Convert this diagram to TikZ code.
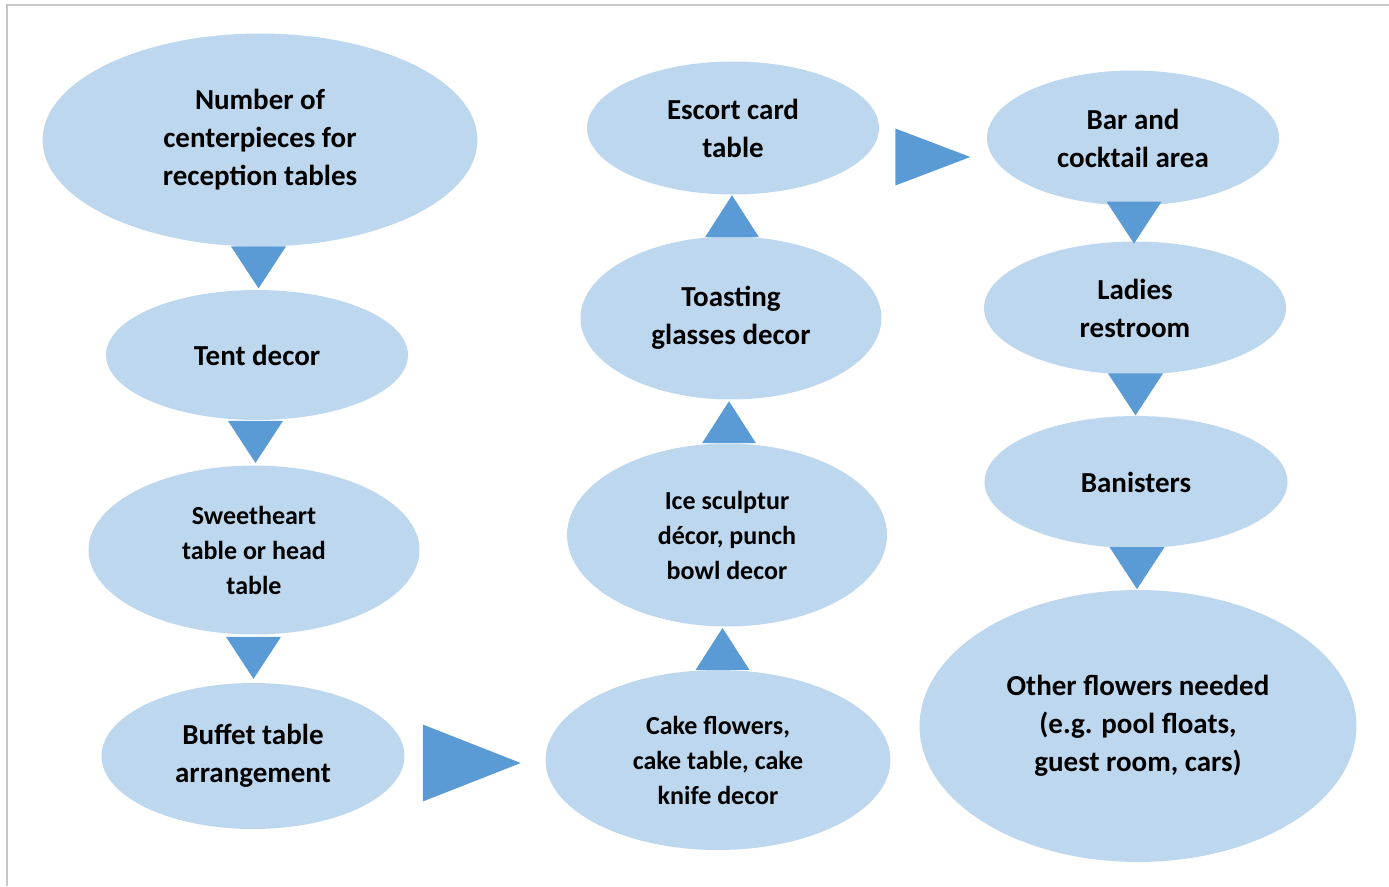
\documentclass[tikz,border=0pt]{standalone}
\usepackage{fontspec}
\setmainfont{Carlito}
\usetikzlibrary{shapes.geometric,calc}
\definecolor{bubblefill}{HTML}{BDD7EE}
\definecolor{pointer}{HTML}{5B9BD5}

\begin{document}
\begin{tikzpicture}[
x=0.02cm, y=-0.02cm,
bubble/.style={
	ellipse, inner sep=0pt,
	fill=bubblefill,
	align=center,
	font=\fontsize{16.5}{21.6}\selectfont\bfseries,
},
small/.style={font=\fontsize{14.8}{19.9}\selectfont\bfseries},
tri/.style={
	isosceles triangle, isosceles triangle stretches,
	inner sep=0pt, fill=pointer,
},
down/.style={tri, shape border rotate=-90, minimum width=1.1cm, minimum height=0.84cm, yshift=0.14cm},
up/.style={tri, shape border rotate=90, minimum width=1.08cm, minimum height=0.84cm, yshift=-0.14cm},
right/.style={tri, shape border rotate=0},
]
\useasboundingbox (0,0) rectangle (1389,886);
\draw[line width=0.8pt, black!22] (7,886) -- (7,5) -- (1389,5);

% first column
\node[bubble, minimum width=8.7cm, minimum height=4.26cm] (centerpieces) at (260,140)
    {Number of\\centerpieces for\\reception tables};
\node[bubble, minimum width=6.04cm, minimum height=2.6cm] (tent) at (257,355)
    {Tent decor};
\node[bubble, small, minimum width=6.62cm, minimum height=3.38cm] (sweetheart) at (254,550)
    {Sweetheart\\table or head\\table};
\node[bubble, minimum width=6.06cm, minimum height=2.92cm] (buffet) at (253,756)
    {Buffet table\\arrangement};

% second column
\node[bubble, small, minimum width=6.9cm, minimum height=3.6cm] (cake) at (718,760)
    {Cake flowers,\\cake table, cake\\knife decor};
\node[bubble, small, minimum width=6.4cm, minimum height=3.66cm] (ice) at (727,535)
    {Ice sculptur\\d\'ecor, punch\\bowl decor};
\node[bubble, minimum width=6.02cm, minimum height=3.26cm] (toasting) at (731,318)
    {Toasting\\glasses decor};
\node[bubble, minimum width=5.84cm, minimum height=2.66cm] (escort) at (733,128)
    {Escort card\\table};

% third column
\node[bubble, minimum width=5.84cm, minimum height=2.7cm] (bar) at (1133,138)
    {Bar and\\cocktail area};
\node[bubble, minimum width=6.04cm, minimum height=2.66cm] (ladies) at (1135,308)
    {Ladies\\restroom};
\node[bubble, minimum width=6.06cm, minimum height=2.64cm] (banisters) at (1136,482)
    {Banisters};
\node[bubble, minimum width=8.74cm, minimum height=5.44cm] (other) at (1138,726)
    {Other flowers needed\\(e.g. pool floats,\\guest room, cars)};

% pointers
\node[down] (p1) at ($(centerpieces.south)!0.5!(tent.north)$) {};
\node[down] (p2) at ($(tent.south)!0.5!(sweetheart.north)$) {};
\node[down] (p3) at ($(sweetheart.south)!0.5!(buffet.north)$) {};
\node[right, minimum width=1.54cm, minimum height=1.96cm] (p4)
    at ($(buffet.east)!0.5!(cake.west)+(-26,5)$) {};
\node[up] (p5) at ($(cake.north)!0.5!(ice.south)$) {};
\node[up] (p6) at ($(ice.north)!0.5!(toasting.south)$) {};
\node[up] (p7) at ($(toasting.north)!0.5!(escort.south)$) {};
\node[right, minimum width=1.14cm, minimum height=1.5cm] (p8)
    at ($(escort.east)!0.5!(bar.west)+(-18,24)$) {};
\node[down] (p9) at ($(bar.south)!0.5!(ladies.north)$) {};
\node[down] (p10) at ($(ladies.south)!0.5!(banisters.north)$) {};
\node[down] (p11) at ($(banisters.south)!0.5!(other.north)$) {};
\end{tikzpicture}
\end{document}
